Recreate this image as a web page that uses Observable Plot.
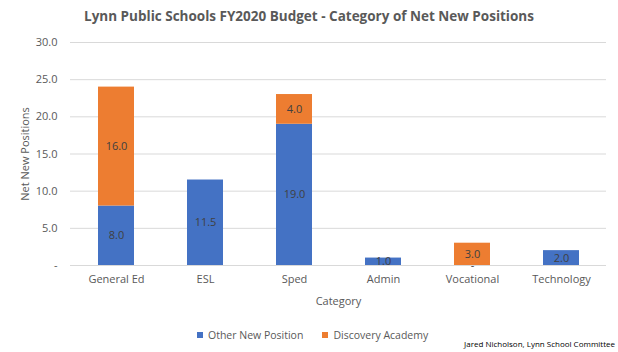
<!DOCTYPE html>
<html><head><meta charset="utf-8">
<script src="https://cdn.jsdelivr.net/npm/d3@7"></script>
<script src="https://cdn.jsdelivr.net/npm/@observablehq/plot@0.6"></script>
<style>
body{margin:0;background:#fff;font-family:"Open Sans","Liberation Sans",sans-serif;}
#wrap{position:relative;width:618px;height:352px;overflow:hidden;}
#title{position:absolute;top:7px;left:0;width:618px;text-align:center;font-size:13.5px;font-weight:bold;color:#595959;}
#chart{position:absolute;top:30px;left:0;}
#legend{position:absolute;top:327px;left:197px;font-size:10.5px;line-height:16px;color:#595959;display:flex;gap:19px;white-space:nowrap;}
#legend span.sw{display:inline-block;width:6px;height:6px;margin-right:5px;vertical-align:1px;}
#caption{position:absolute;top:338px;right:3px;font-size:8px;color:#000;}
</style></head>
<body><div id="wrap">
<div id="title">Lynn Public Schools FY2020 Budget - Category of Net New Positions</div>
<div id="chart"></div>
<div id="legend"></div>
<div id="caption">Jared Nicholson, Lynn School Committee</div>
</div>
<script>
const categories = ["General Ed","ESL","Sped","Admin","Vocational","Technology"];
const otherNew = [8, 11.5, 19, 1, 0, 2];
const discovery = [16, null, 4, null, 3, null];
const seriesNames = ["Other New Position","Discovery Academy"];
const colors = ["#4472C4","#ED7D31"];
const yTicks = [0,5,10,15,20,25,30];

const rows = [];
categories.forEach((c,i)=>{ if(otherNew[i]!=null) rows.push({cat:c, series:seriesNames[0], v:otherNew[i]}); });
categories.forEach((c,i)=>{ if(discovery[i]!=null) rows.push({cat:c, series:seriesNames[1], v:discovery[i]}); });

const fmt = d => d === 0 ? "-" : d.toFixed(1);

const chart = Plot.plot({
  width: 618, height: 290,
  marginLeft: 70, marginRight: 12, marginTop: 12, marginBottom: 55,
  style: {fontFamily: '"Open Sans","Liberation Sans",sans-serif', fontSize: "11px", color: "#595959", background: "#fff"},
  x: {domain: categories, paddingInner: 0.6, paddingOuter: 0.3, label: null},
  y: {domain: [0,30], label: null},
  color: {domain: seriesNames, range: colors},
  marks: [
    Plot.gridY(yTicks, {stroke: "#d9d9d9", strokeOpacity: 1}),
    Plot.axisY(yTicks, {tickSize: 0, tickPadding: 13, tickFormat: fmt, fontSize: 11, label: "Net New Positions", labelAnchor: "center", labelOffset: 49, labelArrow: "none"}),
    Plot.axisX({tickSize: 0, tickPadding: 10, fontSize: 11, label: "Category", labelAnchor: "center", labelOffset: 39, labelArrow: "none"}),
    Plot.barY(rows, Plot.stackY({x: "cat", y: "v", z: "series", fill: "series"})),
    Plot.ruleY([0], {stroke: "#d9d9d9"}),
    Plot.text(rows, Plot.stackY({x: "cat", y: "v", z: "series", text: d => fmt(d.v), fill: "#404040", fontSize: 11}))
  ]
});
document.getElementById("chart").appendChild(chart);

const lg = document.getElementById("legend");
seriesNames.forEach((s,i)=>{
  const d = document.createElement("div");
  d.innerHTML = `<span class="sw" style="background:${colors[i]}"></span>${s}`;
  lg.appendChild(d);
});
</script>
</body></html>
